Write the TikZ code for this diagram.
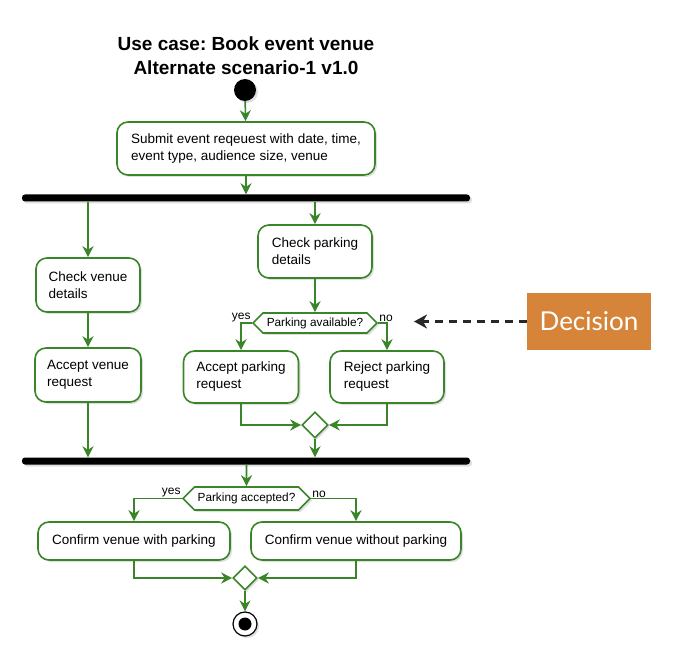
\documentclass[tikz,border=0pt]{standalone}
\usepackage{fontspec}
\setmainfont{Liberation Sans}
\newfontfamily\decfont{Lato}
\usetikzlibrary{arrows.meta, shapes.geometric, shapes.symbols, shadows}
\definecolor{umlgreen}{RGB}{58,133,42}
\definecolor{decorange}{RGB}{214,132,57}
\definecolor{darkarrow}{RGB}{40,40,40}
\frenchspacing

\begin{document}
\begin{tikzpicture}[x=1pt, y=-1pt,
    shade/.style={drop shadow={shadow xshift=2pt, shadow yshift=-2pt, opacity=0.25}},
    act/.style={rectangle, rounded corners=11pt, draw=umlgreen, line width=1.6pt, fill=white,
      align=left, font=\fontsize{13.5}{17}\selectfont, inner sep=0pt, shade},
    hexa/.style={signal, signal to=east and west, draw=umlgreen, line width=1.6pt, fill=white,
      font=\fontsize{11.8}{13}\selectfont, inner sep=0pt, shade},
    merge/.style={diamond, aspect=1, draw=umlgreen, line width=1.6pt, fill=white,
      inner sep=0pt, minimum width=26pt, minimum height=26pt, shade},
    bar/.style={rectangle, fill=black, rounded corners=3pt, minimum width=448pt,
      minimum height=7pt, inner sep=0pt, shade},
    flow/.style={draw=umlgreen, line width=1.6pt, -{Stealth[length=11pt, width=11pt, inset=3.5pt]}},
    lbl/.style={font=\fontsize{12}{14}\selectfont, inner sep=1pt}
  ]
  \useasboundingbox (0,0) rectangle (678,655);

  % title
  \node[font=\fontsize{19}{24}\selectfont\bfseries, align=center] (title) at (246,56)
    {Use case: Book event venue\\Alternate scenario-1 v1.0};

  % start and first action
  \node[circle, fill=black, minimum size=22pt, inner sep=0pt, shade] (start) at (245,90) {};
  \node[act, minimum width=258pt, minimum height=53pt] (sub) at (246,148.5)
    {Submit event reqeuest with date, time,\\event type, audience size, venue};
  \node[bar] (bar1) at (246,198) {};

  % venue branch
  \node[act, minimum width=104pt, minimum height=54pt] (chkv) at (88,285) {Check venue\\details};
  \node[act, minimum width=106pt, minimum height=54pt] (accv) at (88,375) {Accept venue\\request};

  % parking branch
  \node[act, minimum width=114pt, minimum height=53pt] (chkp) at (315,251.5) {Check parking\\details};
  \node[hexa, minimum width=124pt, minimum height=20pt] (hex1) at (315,323) {Parking available?};
  \node[act, minimum width=115pt, minimum height=52pt] (accp) at (241,377) {Accept parking\\request};
  \node[act, minimum width=114pt, minimum height=52pt] (rejp) at (387,377) {Reject parking\\request};
  \node[merge] (mrg1) at (315,425) {};
  \node[lbl, anchor=south east] (yes1) at (hex1.west) {yes};
  \node[lbl, anchor=south west] (no1) at (hex1.east) {no};

  \node[bar] (bar2) at (246,461) {};

  % second decision
  \node[hexa, minimum width=127pt, minimum height=23pt] (hex2) at (246.5,498.5) {Parking accepted?};
  \node[act, minimum width=192pt, minimum height=38pt] (cwp) at (134,541) {Confirm venue with parking};
  \node[act, minimum width=210pt, minimum height=38pt] (cwop) at (356,541) {Confirm venue without parking};
  \node[merge, minimum width=24pt, minimum height=24pt] (mrg2) at (245,578) {};
  \node[lbl, anchor=south east] (yes2) at (hex2.west) {yes};
  \node[lbl, anchor=south west] (no2) at (hex2.east) {no};

  % end
  \node[circle, draw=black, line width=1.2pt, fill=white, minimum size=24pt, inner sep=0pt, shade] (stop) at (245,624) {};
  \node[circle, fill=black, minimum size=13pt, inner sep=0pt] (stopdot) at (stop) {};

  % annotation
  \node[rectangle, fill=decorange, text=white, minimum width=124pt, minimum height=57pt,
    font=\decfont\fontsize{26}{30}\selectfont] (dec) at (589,321.5) {Decision};
  \coordinate (decpt) at (414,321.5);

  % connectors
  \draw[flow] (start) -- (sub);
  \draw[flow] (sub) -- (sub.south |- bar1.north);
  \draw[flow] (bar1.south -| chkv) -- (chkv);
  \draw[flow] (chkv) -- (accv);
  \draw[flow] (accv) -- (accv.south |- bar2.north);
  \draw[flow] (bar1.south -| chkp) -- (chkp);
  \draw[flow] (chkp) -- (hex1);
  \draw[flow] (hex1.west) -| (accp.north);
  \draw[flow] (hex1.east) -| (rejp.north);
  \draw[flow] (accp.south) |- (mrg1.west);
  \draw[flow] (rejp.south) |- (mrg1.east);
  \draw[flow] (mrg1) -- (mrg1.south |- bar2.north);
  \draw[flow] (bar2.south -| hex2) -- (hex2);
  \draw[flow] (hex2.west) -| (cwp.north);
  \draw[flow] (hex2.east) -| (cwop.north);
  \draw[flow] (cwp.south) |- (mrg2.west);
  \draw[flow] (cwop.south) |- (mrg2.east);
  \draw[flow] (mrg2) -- (stop);
  \draw[darkarrow, line width=3pt, dash pattern=on 8pt off 6pt,
    -{Stealth[length=13pt, width=14pt, inset=4pt]}] (dec.west) -- (decpt);
\end{tikzpicture}
\end{document}
